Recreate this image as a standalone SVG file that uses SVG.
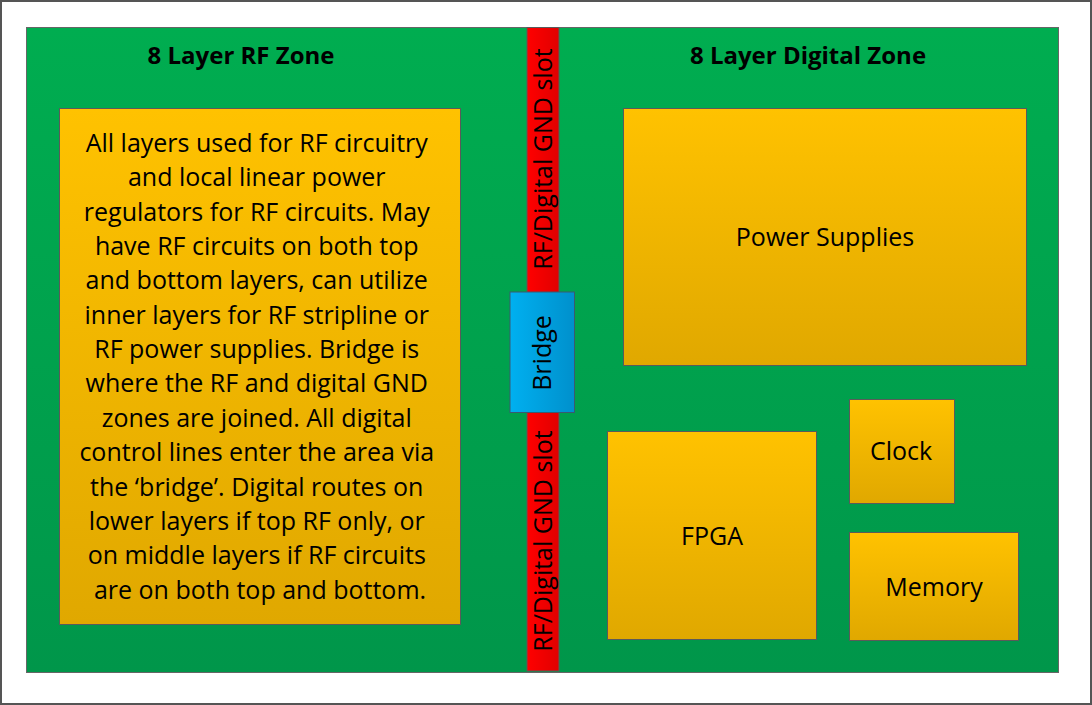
<svg xmlns="http://www.w3.org/2000/svg" width="1092" height="705" viewBox="0 0 1092 705">
<defs>
<linearGradient id="gGreen" x1="0" y1="0" x2="0" y2="1"><stop offset="0" stop-color="#00AD50"/><stop offset="1" stop-color="#00964A"/></linearGradient>
<linearGradient id="gOrange" x1="0" y1="0" x2="0" y2="1"><stop offset="0" stop-color="#FFC200"/><stop offset="1" stop-color="#E0A800"/></linearGradient>
<linearGradient id="gRed" x1="0" y1="0" x2="1" y2="0"><stop offset="0" stop-color="#FF0000"/><stop offset="1" stop-color="#E00000"/></linearGradient>
<linearGradient id="gBlue" x1="0" y1="0" x2="1" y2="0"><stop offset="0" stop-color="#00B0F0"/><stop offset="1" stop-color="#0090CC"/></linearGradient>
</defs>
<style>
.box{fill:url(#gOrange);stroke:#5a5a5a;stroke-width:1}
.t{font-family:"Open Sans","Liberation Sans",sans-serif;font-size:25px;fill:#000;text-anchor:middle}
.title{font-family:"Open Sans","Liberation Sans",sans-serif;font-size:24px;font-weight:bold;fill:#000;text-anchor:middle}
</style>
<rect x="1" y="1" width="1090" height="703" fill="#fff" stroke="#555" stroke-width="2"/>
<g id="board">
<rect x="26.5" y="27.5" width="1032" height="645" fill="url(#gGreen)" stroke="#666" stroke-width="1"/>
<text class="title" x="241" y="64">8 Layer RF Zone</text>
<text class="title" x="808" y="64">8 Layer Digital Zone</text>
</g>
<g id="rfzone">
<rect class="box" x="59.5" y="108.5" width="401" height="516"/>
<text class="t" y="152">
<tspan x="260" y="152">All layers used for RF circuitry</tspan>
<tspan x="260" y="186.35">and local linear power</tspan>
<tspan x="260" y="220.7">regulators for RF circuits. May</tspan>
<tspan x="260" y="255.05">have RF circuits on both top</tspan>
<tspan x="260" y="289.4">and bottom layers, can utilize</tspan>
<tspan x="260" y="323.75">inner layers for RF stripline or</tspan>
<tspan x="260" y="358.1">RF power supplies. Bridge is</tspan>
<tspan x="260" y="392.45">where the RF and digital GND</tspan>
<tspan x="260" y="426.8">zones are joined. All digital</tspan>
<tspan x="260" y="461.15">control lines enter the area via</tspan>
<tspan x="260" y="495.5">the ‘bridge’. Digital routes on</tspan>
<tspan x="260" y="529.85">lower layers if top RF only, or</tspan>
<tspan x="260" y="564.2">on middle layers if RF circuits</tspan>
<tspan x="260" y="598.55">are on both top and bottom.</tspan>
</text>
</g>
<g id="slotTop">
<rect x="527" y="27.5" width="32" height="265" fill="url(#gRed)" stroke="#5a5a5a" stroke-width="1"/>
<text class="t" transform="translate(552,159) rotate(-90)" x="0" y="0">RF/Digital GND slot</text>
</g>
<g id="slotBottom">
<rect x="527" y="412" width="32" height="259" fill="url(#gRed)" stroke="#5a5a5a" stroke-width="1"/>
<text class="t" transform="translate(552,541) rotate(-90)" x="0" y="0">RF/Digital GND slot</text>
</g>
<g id="bridge">
<rect x="510" y="292" width="64.5" height="120.5" fill="url(#gBlue)" stroke="#3a5a70" stroke-width="1"/>
<text class="t" transform="translate(551,353) rotate(-90)" x="0" y="0">Bridge</text>
</g>
<g id="power">
<rect class="box" x="623.5" y="108.5" width="403" height="257"/>
<text class="t" x="825" y="246">Power Supplies</text>
</g>
<g id="fpga">
<rect class="box" x="607.5" y="431.5" width="209" height="208"/>
<text class="t" x="712" y="545">FPGA</text>
</g>
<g id="clock">
<rect class="box" x="849.5" y="399.5" width="105" height="104"/>
<text class="t" x="901" y="460">Clock</text>
</g>
<g id="memory">
<rect class="box" x="849.5" y="532.5" width="169" height="108"/>
<text class="t" x="934" y="596">Memory</text>
</g>
<g id="connectors"/>
</svg>
